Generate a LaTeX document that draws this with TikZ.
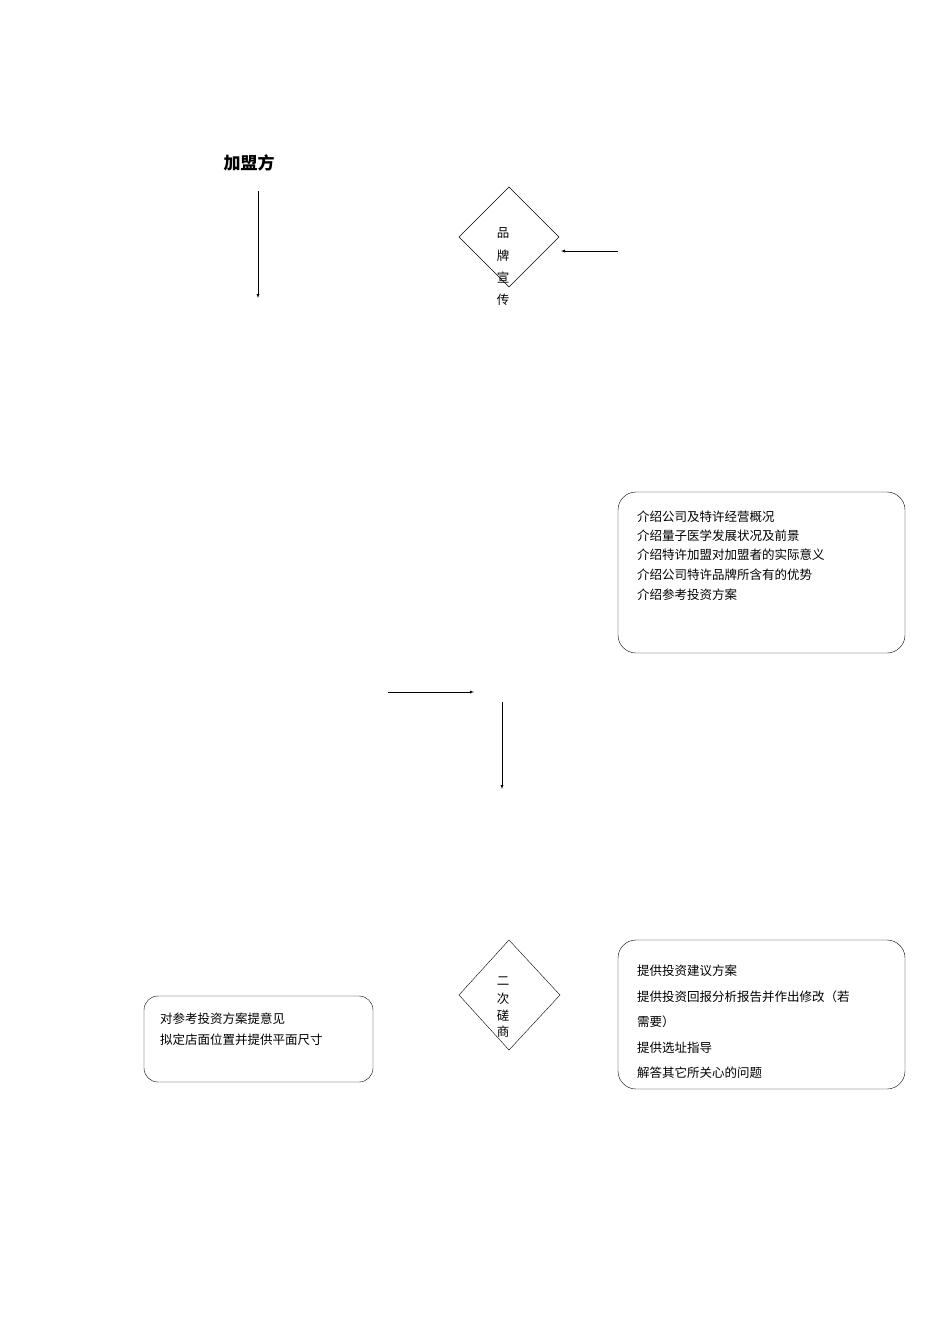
\documentclass[tikz,border=0pt]{standalone}
\usepackage{fontspec}
\newfontfamily\cjk{Noto Sans CJK SC}
\usetikzlibrary{shapes.geometric}
\begin{document}
\begin{tikzpicture}[x=1pt,y=-1pt,
  arr/.style={draw,-latex,thin},
  rbox/.style={draw,rounded corners=18pt,thin},
  txt/.style={font=\cjk\fontsize{12.5}{14}\selectfont,anchor=west,inner sep=0pt},
  vt/.style={font=\cjk\fontsize{12.5}{14}\selectfont,inner sep=0pt},
  dia/.style={draw,thin}]
\useasboundingbox (0,0) rectangle (950,1344);
\node[font=\cjk\bfseries\fontsize{17}{20}\selectfont] (title) at (249,163) {加盟方};
\coordinate (a1) at (258,191); \coordinate (a2) at (258,298);
\draw[arr] (a1) -- (a2);
\draw[dia] (509,187) -- (559,237) -- (509,287) -- (459,237) -- cycle;
\node[vt] (d1a) at (503,233) {品};
\node[vt] (d1b) at (503,256) {牌};
\node[vt] (d1c) at (503,278) {宣};
\node[vt] (d1d) at (503,300) {传};
\coordinate (b1) at (618,251); \coordinate (b2) at (561,251);
\draw[arr] (b1) -- (b2);
\draw[rbox] (618,492) rectangle (905,653);
\node[txt] (t1) at (637,517) {介绍公司及特许经营概况};
\node[txt] (t2) at (637,536) {介绍量子医学发展状况及前景};
\node[txt] (t3) at (637,555) {介绍特许加盟对加盟者的实际意义};
\node[txt] (t4) at (637,575) {介绍公司特许品牌所含有的优势};
\node[txt] (t5) at (637,595) {介绍参考投资方案};
\coordinate (c1) at (388,692); \coordinate (c2) at (474,692);
\draw[arr] (c1) -- (c2);
\coordinate (e1) at (502,702); \coordinate (e2) at (502,789);
\draw[arr] (e1) -- (e2);
\draw[dia] (509,940) -- (560,995) -- (509,1050) -- (459,995) -- cycle;
\node[vt] (d2a) at (503,981) {二};
\node[vt] (d2b) at (503,999) {次};
\node[vt] (d2c) at (503,1016) {磋};
\node[vt] (d2d) at (503,1032) {商};
\draw[rbox] (618,940) rectangle (905,1089);
\node[txt] (s1) at (637,971) {提供投资建议方案};
\node[txt] (s2) at (637,997) {提供投资回报分析报告并作出修改（若};
\node[txt] (s3) at (637,1022) {需要）};
\node[txt] (s4) at (637,1048) {提供选址指导};
\node[txt] (s5) at (637,1073) {解答其它所关心的问题};
\draw[rbox,rounded corners=14pt] (144,996) rectangle (373,1082);
\node[txt] (u1) at (160,1019) {对参考投资方案提意见};
\node[txt] (u2) at (160,1040) {拟定店面位置并提供平面尺寸};
\end{tikzpicture}
\end{document}
